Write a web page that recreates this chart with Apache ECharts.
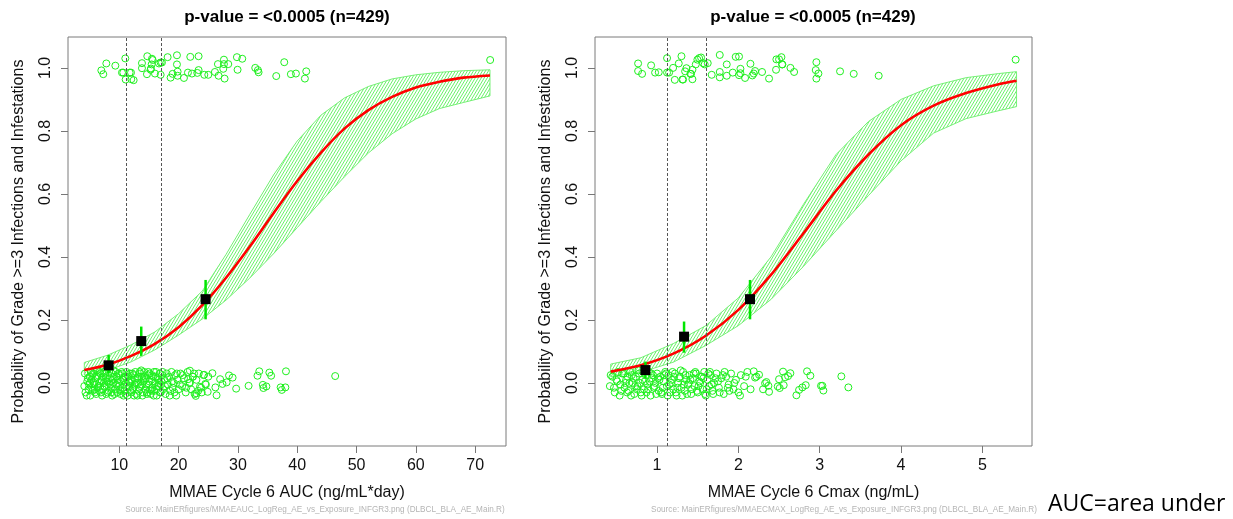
<!DOCTYPE html>
<html>
<head>
<meta charset="utf-8">
<script src="https://cdn.jsdelivr.net/npm/echarts/dist/echarts.min.js"></script>
<style>
html,body{margin:0;padding:0;background:#fff;}
#chart{width:1233px;height:519px;}
</style>
</head>
<body>
<div id="chart"></div>
<script>
// ---------- shared ----------
const titleText = 'p-value = <0.0005 (n=429)';
const yAxisTitle = 'Probability of Grade >=3 Infections and Infestations';
const yTicks = [0, 0.2, 0.4, 0.6, 0.8, 1.0];

// ---------- left panel: AUC ----------
const aucTicks = [10, 20, 30, 40, 50, 60, 70];
const aucCuts = [11.2, 17.0];
const aucCurveX = [4.1, 8, 12, 16, 20, 24, 28, 32, 36, 40, 44, 48, 52, 56, 60, 64, 68, 72.5];
const aucFit    = [0.041, 0.058, 0.086, 0.124, 0.177, 0.247, 0.334, 0.433, 0.539, 0.641, 0.731, 0.808, 0.866, 0.908, 0.938, 0.956, 0.969, 0.976];
const aucUpper  = [0.065, 0.088, 0.121, 0.162, 0.220, 0.292, 0.408, 0.535, 0.660, 0.768, 0.850, 0.905, 0.941, 0.965, 0.978, 0.986, 0.991, 0.994];
const aucLower  = [0.025, 0.040, 0.067, 0.105, 0.152, 0.203, 0.263, 0.333, 0.410, 0.493, 0.576, 0.655, 0.730, 0.791, 0.838, 0.871, 0.890, 0.911];
const aucBinX  = [8.2, 13.7, 24.55];
const aucBinP  = [0.056, 0.133, 0.266];
const aucBinLo = [0.030, 0.086, 0.202];
const aucBinHi = [0.089, 0.179, 0.327];
const aucEvents = [
[6.97,0.992],[7.30,0.980],[7.81,1.014],[9.33,1.007],[11.01,1.030],[10.67,0.985],[10.45,0.985],[11.07,0.963],[11.97,0.985],[12.02,0.964],
[12.42,0.961],[11.74,0.985],[13.82,1.015],[13.82,0.999],[14.72,1.037],[14.66,0.980],[15.28,0.994],[15.45,1.011],[15.51,1.029],[15.62,1.025],
[15.34,0.998],[16.01,0.982],[16.69,1.014],[16.97,0.978],[17.19,1.017],[16.97,1.017],[18.15,1.034],[18.65,0.969],[18.99,0.981],[19.72,1.040],
[19.72,1.011],[19.83,0.988],[19.83,0.975],[20.90,0.968],[21.57,0.985],[21.97,1.035],[22.25,0.982],[23.15,0.984],[23.37,0.993],[23.37,1.037],
[24.33,0.978],[25.00,0.978],[26.12,0.987],[26.63,1.012],[26.74,0.975],[27.53,0.997],[27.64,1.026],[27.64,1.012],[27.75,0.966],[28.37,1.012],
[29.83,1.034],[29.94,0.994],[30.73,1.029],[32.92,1.000],[33.37,0.993],[33.48,0.986],[36.46,0.974],[37.81,1.018],[38.93,0.980],[39.78,0.982],
[41.29,0.966],[41.52,0.989],[72.53,1.025]
];
const aucNonEvents = [
[4.1,-0.01],[4.3,-0.03],[4.6,0.005],[4.8,-0.02],[5.0,0.02],[5.1,-0.04],[5.3,0.01],[5.5,-0.025],[5.6,0.03],[5.8,-0.005],
[6.0,0.015],[6.1,-0.035],[6.3,0.025],[6.4,-0.015],[6.6,0.0],[6.7,0.035],[6.9,-0.03],[7.0,0.01],[7.2,-0.02],[7.3,0.02],
[7.5,-0.01],[7.6,0.03],[7.8,-0.035],[7.9,0.005],[8.1,0.025],[8.2,-0.025],[8.4,0.015],[8.5,-0.005],[8.7,0.03],[8.8,-0.04],
[9.0,0.0],[9.1,0.02],[9.3,-0.02],[9.4,0.035],[9.6,-0.03],[9.7,0.01],[9.9,-0.01],[10.0,0.025],[10.2,-0.035],[10.3,0.005],
[10.5,0.03],[10.6,-0.015],[10.8,0.015],[10.9,-0.025],[11.1,0.0],[11.2,0.035],[11.4,-0.04],[11.5,0.02],[11.7,-0.01],[11.8,0.03],
[12.0,-0.03],[12.1,0.01],[12.3,-0.02],[12.4,0.025],[12.6,-0.005],[12.7,0.035],[12.9,-0.035],[13.0,0.015],[13.2,0.0],[13.3,-0.025],
[13.5,0.03],[13.6,-0.01],[13.8,0.02],[13.9,-0.04],[14.1,0.005],[14.2,0.035],[14.4,-0.02],[14.5,0.015],[14.7,-0.03],[14.8,0.025],
[15.0,-0.005],[15.1,0.03],[15.3,-0.035],[15.4,0.01],[15.6,-0.015],[15.7,0.02],[15.9,-0.025],[16.0,0.0],[16.2,0.035],[16.3,-0.04],
[16.5,0.015],[16.6,-0.01],[16.8,0.03],[16.9,-0.03],[17.1,0.005],[17.2,0.025],[17.4,-0.02],[17.6,0.01],[17.8,-0.035],[18.0,0.03],
[18.2,-0.005],[18.4,0.02],[18.6,-0.025],[18.8,0.035],[19.0,-0.015],[19.2,0.0],[19.4,0.025],[19.6,-0.04],[19.8,0.01],[20.0,-0.02],
[20.3,0.03],[20.6,-0.01],[20.9,0.015],[21.2,-0.03],[21.5,0.035],[21.8,0.0],[22.1,-0.02],[22.4,0.02],[22.7,-0.035],[23.0,0.01],
[23.4,0.03],[23.8,-0.015],[24.2,0.025],[24.6,-0.005],[25.0,0.02],
[4.2,0.03],[4.5,-0.04],[4.7,0.015],[4.9,-0.005],[5.2,0.035],[5.4,-0.015],[5.7,0.0],[5.9,-0.03],[6.2,0.02],[6.5,-0.01],
[6.8,0.03],[7.1,-0.04],[7.4,0.0],[7.7,0.015],[8.0,-0.03],[8.3,0.035],[8.6,-0.015],[8.9,0.01],[9.2,-0.035],[9.5,0.02],
[9.8,0.0],[10.1,-0.02],[10.4,0.035],[10.7,-0.04],[11.0,0.02],[11.3,-0.01],[11.6,0.005],[11.9,-0.025],[12.2,0.03],[12.5,-0.04],
[12.8,0.0],[13.1,0.02],[13.4,-0.015],[13.7,0.04],[14.0,-0.03],[14.3,0.01],[14.6,-0.005],[14.9,0.035],[15.2,-0.02],[15.5,0.025],
[15.8,-0.04],[16.1,0.02],[16.4,-0.01],[16.7,0.0],[17.0,-0.03],[17.3,0.035],[17.7,-0.01],[18.1,0.015],[18.5,-0.04],[18.9,0.005],
[19.3,-0.03],[19.7,0.03],[20.2,-0.005],[20.7,0.025],[21.3,-0.015],[21.9,0.0],[22.6,0.03],[23.3,-0.025],
[5.05,0.0],[5.45,0.025],[5.85,-0.02],[6.25,0.04],[6.65,-0.025],[7.05,0.005],[7.45,0.035],[7.85,-0.01],[8.25,0.0],[8.65,-0.03],
[9.05,0.04],[9.45,-0.005],[9.85,0.03],[10.25,-0.025],[10.65,0.01],[11.05,-0.035],[11.45,0.025],[11.85,0.0],[12.25,-0.015],[12.65,0.01],
[13.05,-0.04],[13.45,0.035],[13.85,-0.005],[14.25,0.02],[14.65,-0.035],[15.05,0.005],[15.45,-0.025],[15.85,0.035],[16.25,-0.02],[16.65,0.01],
[17.05,-0.005],
[24.3,0.026],[24.5,-0.003],[24.9,-0.028],[23.9,-0.030],[23.6,-0.012],[23.0,-0.033],[22.9,-0.041],[22.4,0.020],[21.9,0.039],[21.6,0.012],
[25.7,0.031],[26.4,-0.039],[26.2,-0.014],[27.0,0.012],[27.4,-0.003],[28.1,0.002],[28.5,0.024],[29.1,0.017],[29.7,-0.018],[31.8,-0.009],
[33.3,0.023],[33.6,0.037],[34.2,-0.006],[34.8,-0.011],[34.3,-0.016],[35.3,0.033],[35.6,0.023],[37.2,-0.014],[37.4,-0.022],[38.0,-0.014],
[38.1,0.037],[46.4,0.022]
];

// ---------- right panel: Cmax ----------
const cmaxTicks = [1, 2, 3, 4, 5];
const cmaxCuts = [1.13, 1.61];
const cmaxCurveX = [0.43, 0.8, 1.2, 1.6, 2.0, 2.4, 2.8, 3.2, 3.6, 4.0, 4.4, 4.8, 5.2, 5.42];
const cmaxFit    = [0.036, 0.056, 0.093, 0.150, 0.232, 0.343, 0.475, 0.610, 0.725, 0.818, 0.880, 0.920, 0.948, 0.959];
const cmaxUpper  = [0.060, 0.080, 0.125, 0.182, 0.270, 0.400, 0.567, 0.725, 0.830, 0.900, 0.943, 0.969, 0.982, 0.988];
const cmaxLower  = [0.020, 0.034, 0.066, 0.119, 0.182, 0.265, 0.370, 0.483, 0.595, 0.705, 0.793, 0.839, 0.864, 0.877];
const cmaxBinX  = [0.857, 1.332, 2.143];
const cmaxBinP  = [0.041, 0.147, 0.266];
const cmaxBinLo = [0.015, 0.096, 0.202];
const cmaxBinHi = [0.068, 0.195, 0.327];
const cmaxEvents = [
[0.767,1.014],[0.767,0.990],[0.816,0.981],[0.927,1.008],[0.976,0.985],[1.021,0.986],[1.123,1.031],[1.123,0.985],[1.148,0.985],[1.197,1.000],
[1.218,0.962],[1.267,1.014],[1.300,1.037],[1.312,0.963],[1.320,0.963],[1.345,0.989],[1.361,0.999],[1.410,0.981],[1.418,0.981],[1.435,0.964],
[1.435,0.994],[1.476,1.011],[1.496,1.026],[1.517,1.031],[1.541,1.033],[1.566,1.015],[1.586,1.011],[1.623,1.015],[1.672,0.978],[1.771,1.041],
[1.771,0.987],[1.771,0.970],[1.857,1.011],[1.857,0.975],[1.931,0.985],[1.967,1.035],[2.008,1.036],[2.008,0.977],[2.025,0.997],[2.025,0.983],
[2.082,0.968],[2.148,1.013],[2.172,0.976],[2.189,0.982],[2.205,0.990],[2.291,0.987],[2.377,0.966],[2.463,0.994],[2.467,1.027],[2.500,1.027],
[2.529,1.034],[2.537,1.011],[2.541,1.011],[2.640,1.000],[2.685,0.987],[2.951,0.993],[2.959,1.018],[2.959,0.966],[2.984,0.982],[3.250,0.989],
[3.418,0.981],[3.725,0.975],[5.409,1.026]
];
const cmaxNonEvents = [
[0.42,-0.01],[0.45,0.02],[0.48,-0.03],[0.51,0.005],[0.54,-0.04],[0.57,0.03],[0.60,-0.015],[0.62,0.01],[0.65,-0.025],[0.67,0.035],
[0.70,0.0],[0.72,-0.035],[0.74,0.02],[0.76,-0.01],[0.78,0.03],[0.80,-0.03],[0.82,0.01],[0.84,-0.02],[0.86,0.025],[0.88,-0.005],
[0.90,0.035],[0.92,-0.04],[0.94,0.015],[0.96,-0.015],[0.98,0.0],[1.00,0.03],[1.02,-0.025],[1.04,0.02],[1.06,-0.035],[1.08,0.005],
[1.10,0.035],[1.12,-0.01],[1.14,0.025],[1.16,-0.03],[1.18,0.01],[1.20,-0.02],[1.22,0.03],[1.24,-0.04],[1.26,0.0],[1.28,0.02],
[1.30,-0.015],[1.32,0.035],[1.34,-0.025],[1.36,0.01],[1.38,-0.005],[1.40,0.025],[1.42,-0.035],[1.44,0.015],[1.46,-0.01],[1.48,0.03],
[1.50,-0.03],[1.52,0.005],[1.54,0.02],[1.56,-0.02],[1.58,0.035],[1.60,-0.04],[1.62,0.01],[1.64,-0.01],[1.66,0.025],[1.68,-0.025],
[1.70,0.0],[1.73,0.03],[1.76,-0.015],[1.79,0.015],[1.82,-0.035],[1.85,0.02],[1.88,-0.005],[1.91,0.03],[1.94,-0.02],[1.97,0.01],
[2.00,-0.03],[2.03,0.025],[2.07,-0.01],[2.11,0.035],[2.15,-0.02],
[0.43,0.025],[0.47,-0.015],[0.52,0.035],[0.56,-0.025],[0.61,0.0],[0.64,0.02],[0.68,-0.04],[0.71,0.015],[0.75,-0.02],[0.79,0.0],
[0.83,0.035],[0.87,-0.03],[0.91,0.005],[0.95,0.025],[0.99,-0.035],[1.03,0.01],[1.07,-0.015],[1.11,0.03],[1.15,-0.005],[1.19,0.035],
[1.23,-0.03],[1.27,0.015],[1.31,-0.04],[1.35,0.025],[1.39,0.0],[1.43,-0.02],[1.47,0.035],[1.51,-0.01],[1.55,0.02],[1.59,-0.035],
[1.63,0.03],[1.67,-0.005],[1.72,0.015],[1.77,-0.03],[1.83,0.035],[1.89,-0.025],[1.95,0.0],[2.02,-0.04],[2.09,0.02],
[0.50,0.01],[0.55,-0.005],[0.59,0.03],[0.63,-0.03],[0.66,0.0],[0.69,0.025],[0.73,-0.01],[0.77,0.04],[0.81,-0.04],[0.85,0.005],
[0.89,-0.02],[0.93,0.03],[0.97,-0.01],[1.01,0.015],[1.05,-0.03],[1.09,0.025],[1.13,-0.04],[1.17,0.0],[1.21,0.02],[1.25,-0.015],
[1.29,0.04],[1.33,-0.005],[1.37,-0.035],[1.41,0.01],[1.45,0.03],[1.49,-0.025],[1.53,0.0],[1.57,0.015],[1.61,-0.02],[1.65,0.035],
[1.69,-0.035],[1.75,0.005],[1.81,0.025],[1.87,-0.015],
[2.189,0.037],[2.205,0.017],[2.254,0.026],[2.222,0.020],[2.303,-0.020],[2.328,-0.001],[2.344,0.003],[2.369,-0.009],[2.377,-0.028],[2.484,-0.011],
[2.500,0.012],[2.508,-0.016],[2.549,0.036],[2.557,-0.007],[2.574,0.018],[2.611,0.022],[2.639,0.031],[2.713,-0.039],[2.746,-0.022],[2.787,-0.014],
[2.828,-0.007],[2.844,0.037],[2.885,0.023],[3.016,-0.009],[3.033,-0.009],[3.045,-0.024],[3.266,0.021],[3.352,-0.014]
];

// ---------- build ----------
const hatch = document.createElement('canvas');
hatch.width = 3; hatch.height = 5;
(function(){
  const c = hatch.getContext('2d');
  c.strokeStyle = 'rgba(30,235,30,0.75)';
  c.lineWidth = 0.9;
  [0, 3, 6].forEach(k => { c.beginPath(); c.moveTo(k - 3, 5); c.lineTo(k, 0); c.stroke(); });
})();
const hatchFill = { image: hatch, repeat: 'repeat' };

const GREEN = '#1ff01f';
const FONT = 'Liberation Sans, Arial, sans-serif';

function bandSeries(idx, xs, lo, hi) {
  return {
    type: 'custom', xAxisIndex: idx, yAxisIndex: idx, z: 1, silent: true,
    data: xs.map((x, i) => [x, lo[i], hi[i]]),
    encode: { x: 0, y: [1, 2] },
    renderItem: function (params, api) {
      if (params.dataIndex !== 0) return null;
      const pts = [];
      for (let i = 0; i < xs.length; i++) pts.push(api.coord([xs[i], hi[i]]));
      for (let i = xs.length - 1; i >= 0; i--) pts.push(api.coord([xs[i], lo[i]]));
      return { type: 'polygon', shape: { points: pts },
        style: { fill: hatchFill, stroke: '#6aee6a', lineWidth: 0.9 } };
    }
  };
}
function errSeries(idx, xs, lo, hi) {
  return {
    type: 'custom', xAxisIndex: idx, yAxisIndex: idx, z: 4, silent: true,
    data: xs.map((x, i) => [x, lo[i], hi[i]]),
    encode: { x: 0, y: [1, 2] },
    renderItem: function (params, api) {
      const a = api.coord([api.value(0), api.value(1)]);
      const b = api.coord([api.value(0), api.value(2)]);
      return { type: 'line', shape: { x1: a[0], y1: a[1], x2: b[0], y2: b[1] },
        style: { stroke: '#00e600', lineWidth: 2.5 } };
    }
  };
}
function pointSeries(idx, data, cuts) {
  const s = {
    type: 'scatter', xAxisIndex: idx, yAxisIndex: idx, z: 2, silent: true,
    symbol: 'circle', symbolSize: 7, data: data,
    itemStyle: { color: 'rgba(0,0,0,0)', borderColor: GREEN, borderWidth: 1, opacity: 1 }
  };
  if (cuts) {
    s.markLine = { silent: true, symbol: ['none', 'none'], label: { show: false },
      lineStyle: { color: '#555', type: [3, 2], width: 1 },
      data: cuts.map(c => ({ xAxis: c })) };
  }
  return s;
}
function fitSeries(idx, xs, ys) {
  return { type: 'line', xAxisIndex: idx, yAxisIndex: idx, z: 3, silent: true,
    data: xs.map((x, i) => [x, ys[i]]), smooth: 0.3, showSymbol: false, symbol: 'none',
    lineStyle: { color: '#ff0000', width: 2.6 } };
}
function binSeries(idx, xs, ps) {
  return { type: 'scatter', xAxisIndex: idx, yAxisIndex: idx, z: 5, silent: true,
    symbol: 'rect', symbolSize: 10, data: xs.map((x, i) => [x, ps[i]]),
    itemStyle: { color: '#000', opacity: 1 } };
}
function xAxisDef(idx, min, max, ticks, name) {
  return { type: 'value', gridIndex: idx, min: min, max: max,
    name: name, nameLocation: 'middle', nameGap: 39,
    nameTextStyle: { fontSize: 16, color: '#111', fontFamily: FONT },
    axisLine: { show: false, onZero: false }, splitLine: { show: false },
    axisTick: { show: true, length: 7, customValues: ticks, lineStyle: { color: '#777' } },
    axisLabel: { customValues: ticks, fontSize: 16, color: '#111', fontFamily: FONT, margin: 12 } };
}
function yAxisDef(idx) {
  return { type: 'value', gridIndex: idx, min: -0.2, max: 1.098,
    name: yAxisTitle, nameLocation: 'middle', nameGap: 41,
    nameTextStyle: { fontSize: 16, color: '#111', fontFamily: FONT },
    axisLine: { show: false, onZero: false }, splitLine: { show: false },
    axisTick: { show: true, length: 7, customValues: yTicks, lineStyle: { color: '#777' } },
    axisLabel: { customValues: yTicks, rotate: 90, fontSize: 16, color: '#111', fontFamily: FONT, margin: 14,
      formatter: v => Number(v).toFixed(1) } };
}

const chart = echarts.init(document.getElementById('chart'), null, { renderer: 'canvas' });
chart.setOption({
  animation: false,
  backgroundColor: '#fff',
  grid: [
    { left: 68, top: 37, width: 438, height: 409, show: true, borderColor: '#7a7a7a', borderWidth: 1, backgroundColor: 'transparent' },
    { left: 595, top: 37, width: 437, height: 409, show: true, borderColor: '#7a7a7a', borderWidth: 1, backgroundColor: 'transparent' }
  ],
  xAxis: [
    xAxisDef(0, 1.35, 75.2, aucTicks, 'MMAE Cycle 6 AUC (ng/mL*day)'),
    xAxisDef(1, 0.237, 5.61, cmaxTicks, 'MMAE Cycle 6 Cmax (ng/mL)')
  ],
  yAxis: [yAxisDef(0), yAxisDef(1)],
  series: [
    bandSeries(0, aucCurveX, aucLower, aucUpper),
    pointSeries(0, aucEvents, aucCuts),
    pointSeries(0, aucNonEvents, null),
    fitSeries(0, aucCurveX, aucFit),
    errSeries(0, aucBinX, aucBinLo, aucBinHi),
    binSeries(0, aucBinX, aucBinP),
    bandSeries(1, cmaxCurveX, cmaxLower, cmaxUpper),
    pointSeries(1, cmaxEvents, cmaxCuts),
    pointSeries(1, cmaxNonEvents, null),
    fitSeries(1, cmaxCurveX, cmaxFit),
    errSeries(1, cmaxBinX, cmaxBinLo, cmaxBinHi),
    binSeries(1, cmaxBinX, cmaxBinP)
  ],
  graphic: [
    { type: 'text', x: 287, y: 17, style: { text: titleText, align: 'center', verticalAlign: 'middle',
      font: 'bold 17px ' + FONT, fill: '#000' } },
    { type: 'text', x: 813, y: 17, style: { text: titleText, align: 'center', verticalAlign: 'middle',
      font: 'bold 17px ' + FONT, fill: '#000' } },
    { type: 'text', x: 315, y: 510, style: { text: 'Source: MainERfigures/MMAEAUC_LogReg_AE_vs_Exposure_INFGR3.png (DLBCL_BLA_AE_Main.R)',
      align: 'center', verticalAlign: 'middle', font: '8.2px ' + FONT, fill: '#b5b5b5' } },
    { type: 'text', x: 844, y: 510, style: { text: 'Source: MainERfigures/MMAECMAX_LogReg_AE_vs_Exposure_INFGR3.png (DLBCL_BLA_AE_Main.R)',
      align: 'center', verticalAlign: 'middle', font: '8.2px ' + FONT, fill: '#b5b5b5' } },
    { type: 'text', x: 1048, y: 504, style: { text: 'AUC=area under', align: 'left', verticalAlign: 'middle',
      font: '23px "Open Sans", "Noto Sans", sans-serif', fill: '#000' } }
  ]
});
</script>
</body>
</html>
